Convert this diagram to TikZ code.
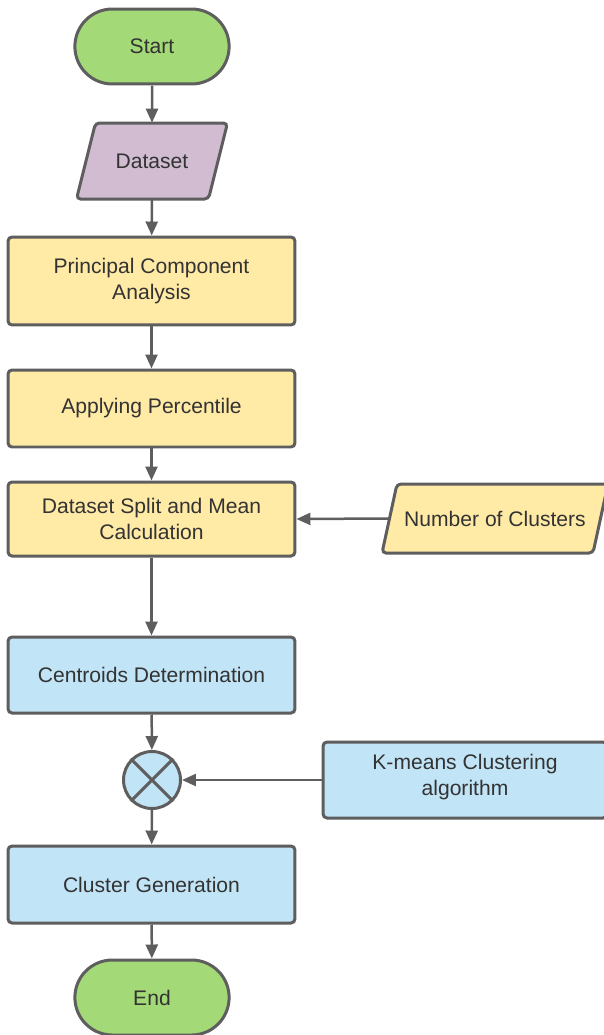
\documentclass[tikz,border=0pt]{standalone}
\usepackage{fontspec}
\setmainfont{Liberation Sans}
\usetikzlibrary{arrows.meta, shapes.misc, backgrounds}

\definecolor{termgreen}{HTML}{A3D977}
\definecolor{datapurple}{HTML}{D1BCD2}
\definecolor{procyellow}{HTML}{FFEAA6}
\definecolor{clustblue}{HTML}{C1E4F6}
\definecolor{linegray}{HTML}{5E5E5E}
\definecolor{textgray}{HTML}{333333}

\begin{document}
\begin{tikzpicture}[x=0.02cm, y=-0.02cm,
    every node/.style={font=\fontsize{12}{14.3}\selectfont, text=textgray, align=center},
    base/.style={draw=linegray, line width=0.06cm},
    terminal/.style={base, rounded rectangle, fill=termgreen,
                     minimum width=3.32cm, minimum height=1.5cm},
    process/.style={base, rectangle, rounded corners=0.08cm,
                    minimum width=5.74cm, minimum height=1.54cm},
    mixer/.style={base, circle, fill=clustblue, minimum size=1.14cm, inner sep=0pt}]
\useasboundingbox (0, 0) rectangle (603, 1035);

% main column
\node[terminal] (start) at (152, 46.5) {Start};
\node[minimum width=2.64cm, minimum height=1.52cm] (dataset) at (152, 161) {Dataset};
\node[process, fill=procyellow, minimum height=1.76cm] (pca) at (151.5, 281)
    {Principal Component\\Analysis};
\node[process, fill=procyellow] (percentile) at (151.5, 408.5) {Applying Percentile};
\node[process, fill=procyellow, minimum height=1.48cm] (split) at (151.5, 519)
    {Dataset Split and Mean\\Calculation};
\node[process, fill=clustblue, minimum height=1.52cm] (centroids) at (151.5, 675)
    {Centroids Determination};
\node[mixer] (cross) at (152, 780) {};
\draw[base] (cross.north west) -- (cross.south east);
\draw[base] (cross.north east) -- (cross.south west);
\node[process, fill=clustblue] (generation) at (151.5, 884.5) {Cluster Generation};
\node[terminal] (end) at (152, 997.5) {End};

% side inputs
\node[minimum width=4.22cm, minimum height=1.38cm] (clusters) at (495, 518.5)
    {Number of Clusters};
\node[process, fill=clustblue, minimum width=5.68cm, minimum height=1.52cm] (kmeans)
    at (465, 780) {};
\node (kmeanstext) at (465, 777) {K-means Clustering\\algorithm};

% slanted data shapes
\begin{scope}[on background layer]
    \draw[base, fill=datapurple, rounded corners=0.08cm, shift={(dataset.center)}, xslant=0.25]
        (-66, -38) -- (66, -38) -- (66, 38) -- (-66, 38) -- cycle;
    \draw[base, fill=procyellow, rounded corners=0.08cm, shift={(clusters.center)}, xslant=0.217]
        (-105.5, -34.5) -- (105.5, -34.5) -- (105.5, 34.5) -- (-105.5, 34.5) -- cycle;
\end{scope}

\begin{scope}[>={Triangle[width=0.24cm, length=0.28cm]},
              every edge/.style={draw=linegray, line width=0.05cm}]
    \path [->] (start) edge (dataset);
    \path [->] (dataset) edge (pca);
    \path [->] (pca) edge (percentile);
    \path [->] (percentile) edge (split);
    \path [->] (split) edge (centroids);
    \path [->] (centroids) edge (cross);
    \path [->] (cross) edge (generation);
    \path [->] (generation) edge (end);
    \path [->] (clusters.west) edge (split.east);
    \path [->] (kmeans.west) edge (cross.east);
\end{scope}
\end{tikzpicture}
\end{document}
